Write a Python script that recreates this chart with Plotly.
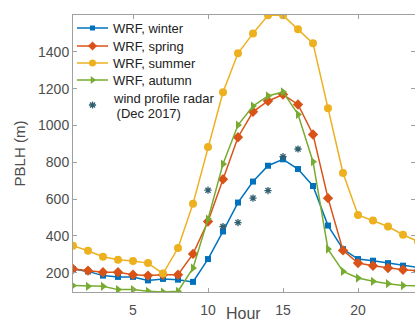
import plotly.graph_objects as go

hours = list(range(1, 25))
winter = [220, 207, 184, 177, 177, 158, 166, 162, 150, 274, 424, 581, 695, 781, 816, 763,
          671, 456, 328, 274, 265, 252, 238, 228]
spring = [220, 211, 202, 202, 189, 184, 189, 189, 302, 478, 708, 936, 1074, 1133, 1168, 1114,
          951, 605, 321, 252, 238, 225, 216, 210]
summer = [346, 319, 287, 270, 263, 252, 195, 334, 574, 883, 1180, 1392, 1500, 1598, 1598, 1522,
          1446, 1094, 742, 514, 483, 451, 406, 370]
autumn = [130, 126, 126, 108, 108, 99, 95, 99, 225, 491, 790, 1002, 1105, 1160, 1182, 1060,
          803, 328, 207, 171, 153, 140, 130, 128]
radar_hours = [10, 11, 12, 13, 14, 15, 16]
radar = [648, 451, 472, 605, 646, 830, 872]

names = ["WRF, winter", "WRF, spring", "WRF, summer", "WRF, autumn"]
radar_name = "wind profile radar<br> (Dec 2017)"
colors = ["#0072BD", "#D95319", "#EDB120", "#77AC30"]
radar_color = "#2F5F70"
symbols = ["square", "diamond", "circle", "triangle-right"]
sizes = [6, 8, 8, 8]
series = [winter, spring, summer, autumn]

# plot area in pixels (for the hand-placed legend)
W, H = 415, 320
L, R, T, B = 73, 0, 15, 28
PW, PH = W - L - R, H - T - B


def px_x(px):
    return (px - L) / PW


def px_y(py):
    return (H - B - py) / PH


fig = go.Figure()
for nm, c, s, sz, ys in zip(names, colors, symbols, sizes, series):
    fig.add_trace(go.Scatter(x=hours, y=ys, name=nm, mode="lines+markers",
                             line=dict(color=c, width=1.5),
                             marker=dict(symbol=s, size=sz, color=c), showlegend=False))
fig.add_trace(go.Scatter(x=radar_hours, y=radar, name=radar_name, mode="markers",
                         marker=dict(symbol="asterisk-open", size=6, color=radar_color,
                                     line=dict(color=radar_color, width=1.3)),
                         showlegend=False))

# hand-built legend (tighter row spacing than plotly's native legend)
row_py = [28, 46, 63, 80]
radar_py = [98, 113]
line_x0, line_x1, text_x = 77, 108, 111
shapes, annos = [], []
leg_x, leg_y = [], []
for c, s, sz, py, nm in zip(colors, symbols, sizes, row_py, names):
    shapes.append(dict(type="line", xref="paper", yref="paper",
                       x0=px_x(line_x0), x1=px_x(line_x1), y0=px_y(py), y1=px_y(py),
                       line=dict(color=c, width=1.5)))
    annos.append(dict(text=nm, x=px_x(text_x), y=px_y(py), xref="paper", yref="paper",
                      xanchor="left", yanchor="middle", showarrow=False,
                      font=dict(family="Liberation Sans", size=13, color="#222222")))
    fig.add_trace(go.Scatter(x=[px_x((line_x0 + line_x1) / 2)], y=[px_y(py)],
                             xaxis="x2", yaxis="y2", mode="markers", hoverinfo="skip",
                             marker=dict(symbol=s, size=sz - 1, color=c), showlegend=False,
                             cliponaxis=False))
for py, txt in zip(radar_py, ["wind profile radar", " (Dec 2017)"]):
    annos.append(dict(text=txt, x=px_x(text_x), y=px_y(py), xref="paper", yref="paper",
                      xanchor="left", yanchor="middle", showarrow=False,
                      font=dict(family="Liberation Sans", size=13, color="#222222")))
fig.add_trace(go.Scatter(x=[px_x((line_x0 + line_x1) / 2)], y=[px_y(105)],
                         xaxis="x2", yaxis="y2", mode="markers", hoverinfo="skip",
                         marker=dict(symbol="asterisk-open", size=6, color=radar_color,
                                     line=dict(color=radar_color, width=1.3)),
                         showlegend=False, cliponaxis=False))

annos.append(dict(text="Hour", x=px_x(243), y=px_y(313), xref="paper", yref="paper",
                  xanchor="center", yanchor="middle", showarrow=False,
                  font=dict(family="Liberation Sans", size=16, color="#4D4D4D")))

axis_common = dict(showline=True, linecolor="#A0A0A0", linewidth=1, mirror="ticks",
                   ticks="inside", ticklen=4, tickcolor="#A0A0A0", showgrid=False,
                   zeroline=False,
                   tickfont=dict(family="Liberation Sans", size=14, color="#4D4D4D"))

fig.update_layout(
    width=W, height=H,
    margin=dict(l=L, r=R, t=T, b=B),
    paper_bgcolor="white", plot_bgcolor="white",
    font=dict(family="Liberation Sans", color="#333333"),
    xaxis=dict(range=[1, 23.8], tickvals=[5, 10, 15, 20], ticklabelstandoff=5, **axis_common),
    yaxis=dict(range=[95, 1600], tickvals=[200, 400, 600, 800, 1000, 1200, 1400],
               title=dict(text="PBLH (m)", font=dict(size=15, color="#4D4D4D"), standoff=8),
               **axis_common),
    xaxis2=dict(overlaying="x", range=[0, 1], visible=False, anchor="y2"),
    yaxis2=dict(overlaying="y", range=[0, 1], visible=False, anchor="x2"),
    showlegend=False,
    shapes=shapes,
    annotations=annos,
)

fig.write_html("out.html")
